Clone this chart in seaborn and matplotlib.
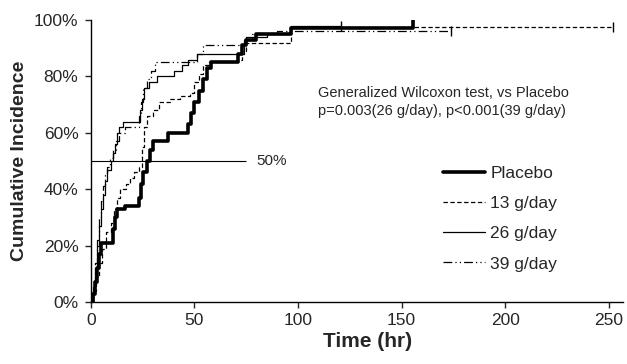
import numpy as np
import pandas as pd
import seaborn as sns
import matplotlib.pyplot as plt
from matplotlib.lines import Line2D
from matplotlib.ticker import PercentFormatter

sns.set_style("ticks")
plt.rcParams['font.family'] = ['Liberation Sans', 'DejaVu Sans']

groups = ['Placebo', '13 g/day', '26 g/day', '39 g/day']

# step times (hr) and cumulative incidence after each step
placebo_t = [0, 1, 2, 3, 4, 5, 10.5, 11.5, 12.5, 16.5, 23, 24, 25, 27, 28.5, 30, 37,
             47, 48.5, 50, 52, 54, 56, 58, 71, 73, 75, 79.5, 96.5, 155.5]
placebo_y = [0, 0.03, 0.07, 0.12, 0.17, 0.21, 0.26, 0.30, 0.33, 0.34, 0.37, 0.42, 0.46,
             0.50, 0.54, 0.57, 0.60, 0.63, 0.67, 0.71, 0.75, 0.79, 0.83, 0.85, 0.88,
             0.91, 0.93, 0.95, 0.97, 1.0]

g13_t = [0, 1, 2.5, 4, 5.5, 7.5, 9.5, 11, 12.5, 14, 17, 19, 21, 23, 24.5, 25.5, 27, 30,
         33, 38, 43, 48, 50, 52, 54, 57, 71, 73, 75, 96.5, 252]
g13_y = [0, 0.04, 0.09, 0.14, 0.19, 0.25, 0.28, 0.33, 0.37, 0.40, 0.42, 0.44, 0.46,
         0.48, 0.55, 0.62, 0.66, 0.68, 0.71, 0.72, 0.73, 0.74, 0.78, 0.81, 0.84, 0.85,
         0.86, 0.89, 0.92, 0.975, 0.975]

g26_t = [0, 1, 2, 3, 4, 5, 6, 7, 8, 9.5, 10.5, 11.5, 12.5, 13.5, 15.5, 23.5, 24.5,
         25.5, 28, 32, 40, 44, 47, 51, 74, 75, 85, 96.5, 120.5]
g26_y = [0, 0.05, 0.12, 0.20, 0.27, 0.33, 0.38, 0.43, 0.47, 0.50, 0.53, 0.56, 0.60,
         0.62, 0.64, 0.68, 0.72, 0.76, 0.78, 0.80, 0.82, 0.84, 0.86, 0.88, 0.92, 0.94,
         0.95, 0.98, 0.98]

g39_t = [0, 1, 2, 3, 4, 5, 6, 7, 8, 9, 10.5, 12, 13.5, 16.5, 23, 24, 25, 27, 29, 31,
         51, 54, 74, 78, 90, 174]
g39_y = [0, 0.06, 0.14, 0.22, 0.30, 0.36, 0.41, 0.45, 0.48, 0.51, 0.54, 0.57, 0.60,
         0.62, 0.66, 0.71, 0.76, 0.79, 0.82, 0.85, 0.88, 0.91, 0.93, 0.95, 0.96, 0.96]

times = [placebo_t, g13_t, g26_t, g39_t]
values = [placebo_y, g13_y, g26_y, g39_y]

frames = []
for g, t, y in zip(groups, times, values):
    frames.append(pd.DataFrame({'Time': t, 'Incidence': y, 'Group': g}))
df = pd.concat(frames, ignore_index=True)

styles = {
    'Placebo': dict(linewidth=2.6, linestyle='-'),
    '13 g/day': dict(linewidth=0.9, linestyle=(0, (3.5, 2))),
    '26 g/day': dict(linewidth=0.9, linestyle='-'),
    '39 g/day': dict(linewidth=0.9, linestyle=(0, (7, 2.5, 1, 2.5, 1, 2.5))),
}

fig = plt.figure(figsize=(6.27, 3.64), dpi=100)
ax = fig.add_axes([0.145, 0.17, 0.849, 0.775])

for g in groups:
    sub = df[df['Group'] == g]
    sns.lineplot(x='Time', y='Incidence', data=sub, ax=ax, color='black',
                 drawstyle='steps-post', estimator=None, sort=False, **styles[g])
    # censor mark at the end of follow-up
    ax.plot(sub['Time'].iloc[-1], sub['Incidence'].iloc[-1], marker='|',
            markersize=7, color='black', markeredgewidth=1)

# 50% reference line
ref_level = 0.5
ref_end = 75
ax.hlines(ref_level, 0, ref_end, color='black', linewidth=0.8)
ax.text(ref_end + 5, ref_level, '50%', fontsize=11, va='center', ha='left')

ax.text(109.5, 0.71, 'Generalized Wilcoxon test, vs Placebo\n'
        'p=0.003(26 g/day), p<0.001(39 g/day)',
        fontsize=10.5, va='center', ha='left', linespacing=1.4)

ax.set_xlim(0, 257)
ax.set_ylim(0, 1.0)
ax.set_xticks([0, 50, 100, 150, 200, 250])
ax.set_yticks([0, 0.2, 0.4, 0.6, 0.8, 1.0])
ax.yaxis.set_major_formatter(PercentFormatter(1.0, decimals=0))
ax.tick_params(labelsize=12.5, length=4, width=1, direction='out')
ax.tick_params(axis='y', pad=5)
ax.set_xlabel('Time (hr)', fontsize=15, fontweight='bold')
ax.set_ylabel('Cumulative Incidence', fontsize=14, fontweight='bold')
ax.xaxis.set_label_coords(0.519, -0.105)
sns.despine(ax=ax)
for s in ['left', 'bottom']:
    ax.spines[s].set_linewidth(1)
    ax.spines[s].set_color('black')

handles = [Line2D([], [], color='black', **styles[g]) for g in groups]
ax.legend(handles, groups, loc='upper left', bbox_to_anchor=(0.662, 0.484),
          frameon=False, fontsize=12.5, handlelength=2.4, labelspacing=0.87,
          handletextpad=0.3, borderpad=0, borderaxespad=0)

fig.savefig('out.png', dpi=100)
